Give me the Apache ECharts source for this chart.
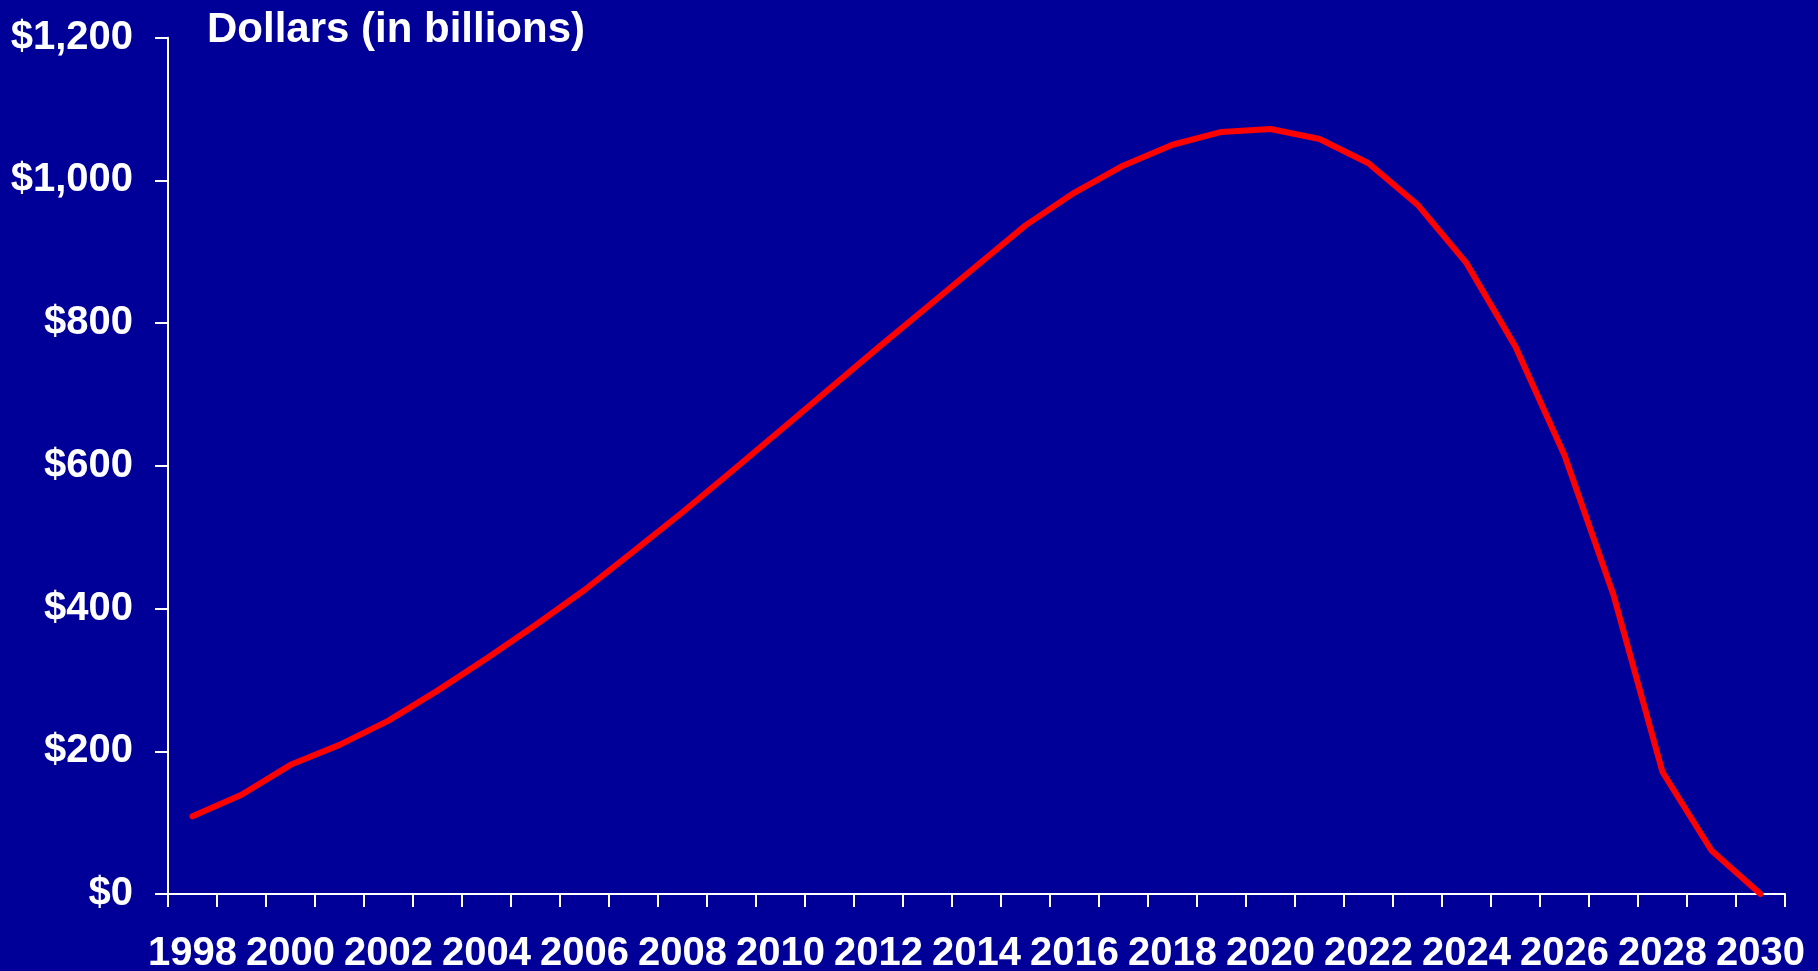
<!DOCTYPE html>
<html>
<head>
<meta charset="utf-8">
<script src="https://cdn.jsdelivr.net/npm/echarts@6/dist/echarts.min.js"></script>
<style>
  html, body { margin: 0; padding: 0; background: #000099; }
  #chart { width: 1818px; height: 971px; }
</style>
</head>
<body>
<div id="chart"></div>
<script>
// years on the x axis, one category each
const years = [
  '1998', '1999', '2000', '2001', '2002', '2003', '2004', '2005', '2006', '2007', '2008',
  '2009', '2010', '2011', '2012', '2013', '2014', '2015', '2016', '2017', '2018', '2019',
  '2020', '2021', '2022', '2023', '2024', '2025', '2026', '2027', '2028', '2029', '2030'
];
// dollars in billions
const balance = [
  109, 139, 181, 209, 243, 285, 330, 377, 426, 480, 535,
  592, 650, 708, 766, 823, 880, 937, 983, 1021, 1050, 1068,
  1072, 1058, 1024, 966, 884, 767, 615, 419, 171, 61, 0
];
const yMin = 0;
const yMax = 1200;
const yStep = 200;
const titleText = 'Dollars (in billions)';

const font = 'Arial, "Liberation Sans", sans-serif';
var myChart = echarts.init(document.getElementById('chart'));

var option = {
  backgroundColor: '#000099',
  animation: false,
  title: {
    text: titleText,
    left: 202,
    top: 4,
    textStyle: {
      color: '#ffffff',
      fontFamily: font,
      fontWeight: 'bold',
      fontSize: 42,
    },
  },
  grid: {
    left: 168,
    right: 33,
    top: 37.7,
    bottom: 77,
    containLabel: false,
    outerBoundsMode: 'none', // keep the plot box where it is
  },
  xAxis: {
    type: 'category',
    data: years,
    boundaryGap: true,
    axisLine: { show: true, lineStyle: { color: '#ffffff', width: 2 } },
    axisTick: {
      show: true,
      interval: 0,
      alignWithLabel: false,
      length: 13,
      lineStyle: { color: '#ffffff', width: 2 },
    },
    axisLabel: {
      interval: 1,
      color: '#ffffff',
      fontFamily: font,
      fontWeight: 'bold',
      fontSize: 40,
      margin: 40,
    },
    splitLine: { show: false },
  },
  yAxis: {
    type: 'value',
    min: yMin,
    max: yMax,
    interval: yStep,
    axisLine: { show: true, lineStyle: { color: '#ffffff', width: 2 } },
    axisTick: {
      show: true,
      length: 13,
      lineStyle: { color: '#ffffff', width: 2 },
    },
    axisLabel: {
      color: '#ffffff',
      fontFamily: font,
      fontWeight: 'bold',
      fontSize: 40,
      margin: 35,
      padding: [6, 0, 0, 0],
      formatter: function (value) {
        return '$' + value.toLocaleString('en-US');
      },
    },
    splitLine: { show: false },
  },
  series: [
    {
      type: 'line',
      data: balance,
      smooth: false,
      showSymbol: false,
      symbol: 'none',
      lineStyle: { color: '#ff0000', width: 6, cap: 'round', join: 'round' },
    },
  ],
};

myChart.setOption(option);
</script>
</body>
</html>
